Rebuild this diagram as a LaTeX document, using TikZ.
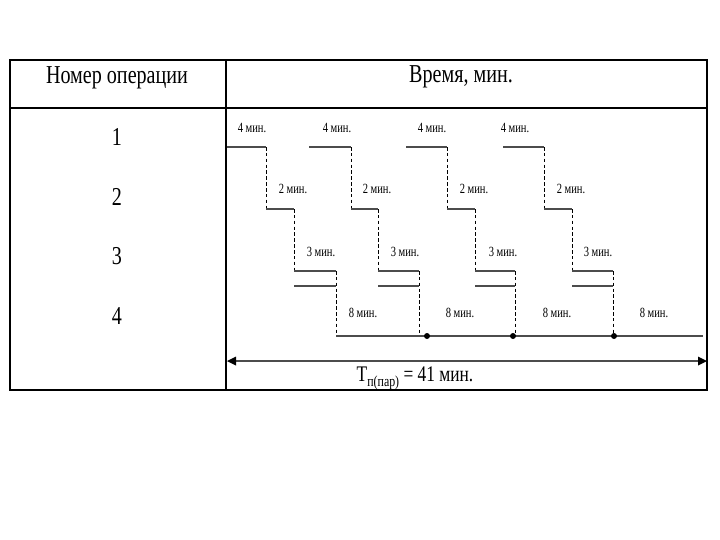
\documentclass[tikz,border=0pt]{standalone}
\usepackage{fontspec}
\setmainfont{Liberation Serif}

\tikzset{
  opline/.style={draw=black!70, line width=2pt},
  waitline/.style={draw=black, line width=0.7pt, dash pattern=on 3pt off 2pt},
  tablerule/.style={draw=black, line width=1.1pt},
  big/.style={font=\fontsize{22}{24}\selectfont, xscale=0.78},
  small/.style={font=\fontsize{12}{13}\selectfont, xscale=0.75}
}

\begin{document}
\begin{tikzpicture}[x=0.3mm,y=-0.3mm]
\tikzstyle{every node}+=[inner sep=0pt]
\useasboundingbox (0,0) rectangle (720,540);
% table
\draw [tablerule] (10,60) rectangle (707,390);
\draw [tablerule] (10,108) -- (707,108);
\draw [tablerule] (226,60) -- (226,390);
\draw (117,78) node[big] (hdrop) {Номер операции};
\draw (461,77) node[big] (hdrtime) {Время, мин.};
\draw (117,137) node[big] (op1) {1};
\draw (117,197) node[big] (op2) {2};
\draw (117,256) node[big] (op3) {3};
\draw (117,316) node[big] (op4) {4};
% first part
\draw [opline] (227,147) -- (266,147);
\draw [waitline] (266,147) -- (266,209);
\draw [opline] (266,209) -- (294,209);
\draw [waitline] (294,209) -- (294,271);
\draw [opline] (294,271) -- (336,271);
\draw [opline] (294,286) -- (336,286);
\draw [waitline] (336,271) -- (336,336);
% second part
\draw [opline] (309,147) -- (351,147);
\draw [waitline] (351,147) -- (351,209);
\draw [opline] (351,209) -- (378,209);
\draw [waitline] (378,209) -- (378,271);
\draw [opline] (378,271) -- (419,271);
\draw [opline] (378,286) -- (419,286);
\draw [waitline] (419,271) -- (419,336);
% third part
\draw [opline] (406,147) -- (447,147);
\draw [waitline] (447,147) -- (447,209);
\draw [opline] (447,209) -- (475,209);
\draw [waitline] (475,209) -- (475,271);
\draw [opline] (475,271) -- (515,271);
\draw [opline] (475,286) -- (515,286);
\draw [waitline] (515,271) -- (515,336);
% fourth part
\draw [opline] (503,147) -- (544,147);
\draw [waitline] (544,147) -- (544,209);
\draw [opline] (544,209) -- (572,209);
\draw [waitline] (572,209) -- (572,271);
\draw [opline] (572,271) -- (613,271);
\draw [opline] (572,286) -- (613,286);
\draw [waitline] (613,271) -- (613,336);
% operation 4
\draw [opline] (336,336) -- (703,336);
\fill [black] (427,336) circle (3);
\fill [black] (513,336) circle (3);
\fill [black] (614,336) circle (3);
% labels
\draw (252,128) node[small] (ta1) {4 мин.};
\draw (337,128) node[small] (ta2) {4 мин.};
\draw (432,128) node[small] (ta3) {4 мин.};
\draw (515,128) node[small] (ta4) {4 мин.};
\draw (293,189) node[small] (tb1) {2 мин.};
\draw (377,189) node[small] (tb2) {2 мин.};
\draw (474,189) node[small] (tb3) {2 мин.};
\draw (571,189) node[small] (tb4) {2 мин.};
\draw (321,252) node[small] (tc1) {3 мин.};
\draw (405,252) node[small] (tc2) {3 мин.};
\draw (503,252) node[small] (tc3) {3 мин.};
\draw (598,252) node[small] (tc4) {3 мин.};
\draw (363,313) node[small] (td1) {8 мин.};
\draw (460,313) node[small] (td2) {8 мин.};
\draw (557,313) node[small] (td3) {8 мин.};
\draw (654,313) node[small] (td4) {8 мин.};
% total time
\draw [black!70, line width=1.6pt] (232,361) -- (702,361);
\fill [black] (227,361) -- (236,356.5) -- (236,365.5);
\fill [black] (707,361) -- (698,356.5) -- (698,365.5);
\draw (415,378) node[font=\fontsize{19}{21}\selectfont, xscale=0.78] (total)
  {T\raisebox{-0.5ex}{\fontsize{13}{13}\selectfont п(пар)} = 41 мин.};
\end{tikzpicture}
\end{document}
